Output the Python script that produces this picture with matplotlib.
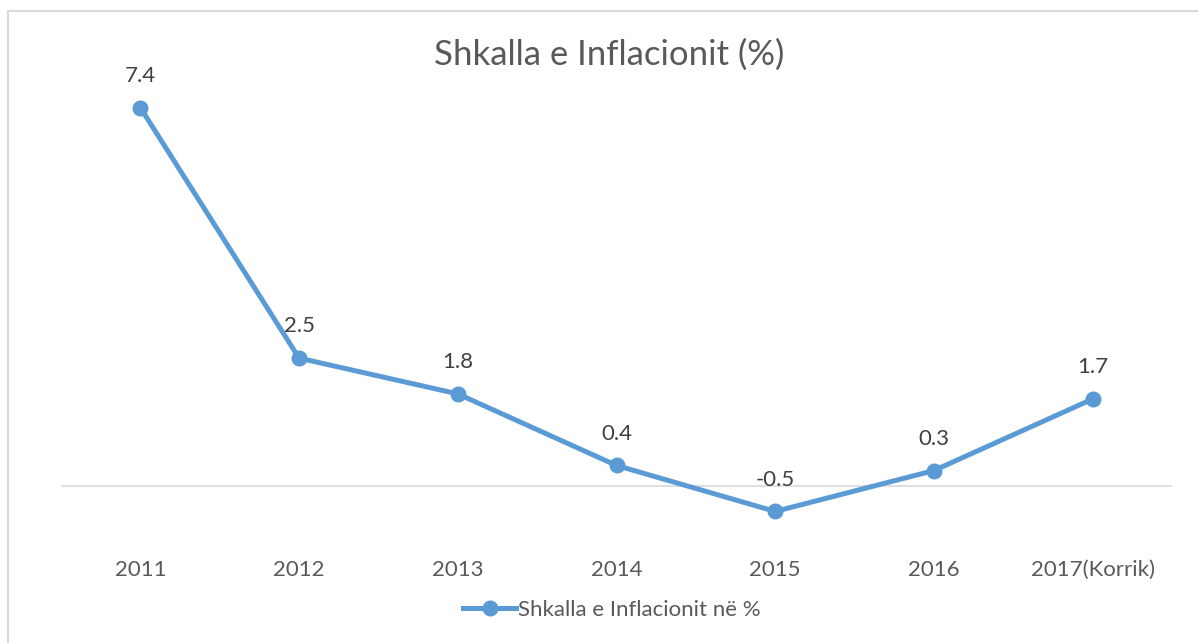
import matplotlib.pyplot as plt
from matplotlib.patches import Rectangle

plt.rcParams['font.family'] = ['Lato', 'DejaVu Sans']

# Datos
years = ['2011', '2012', '2013', '2014', '2015', '2016', '2017(Korrik)']
inflation = [7.4, 2.5, 1.8, 0.4, -0.5, 0.3, 1.7]

W, H = 1198, 643
fig = plt.figure(figsize=(W / 100, H / 100), dpi=100)

# Marco del gráfico
fig.patches.append(Rectangle((8 / W, -0.1), 1.2, 1 - 11 / H + 0.1,
                             transform=fig.transFigure, fill=False,
                             edgecolor='#D9D9D9', linewidth=1.5))

ax = fig.add_axes([61 / W, 1 - 537 / H, (1172 - 61) / W, (537 - 77) / H])

x = range(len(years))
ax.plot(x, inflation, color='#5B9BD5', linewidth=3.6, marker='o',
        markersize=10.5, label='Shkalla e Inflacionit në %')

for xi, v in zip(x, inflation):
    ax.annotate(f'{v}', (xi, v), xytext=(0, 23), textcoords='offset points',
                ha='center', va='center', fontsize=16, color='#404040')

ax.axhline(0, color='#D9D9D9', linewidth=1.2, zorder=0)
ax.set_xlim(-0.5, len(years) - 0.5)
ax.set_ylim(-1, 8)
ax.set_yticks([])
ax.set_xticks([])
for s in ax.spines.values():
    s.set_visible(False)

# Etiquetas del eje x en posición baja
for xi, lab in zip(x, years):
    ax.annotate(lab, (xi, -1), xytext=(0, -24), textcoords='offset points',
                ha='center', va='center', fontsize=16, color='#595959',
                annotation_clip=False)

fig.text(609 / W, 1 - 55 / H, 'Shkalla e Inflacionit (%)', ha='center',
         va='center', fontsize=25, color='#595959')

leg = fig.legend(loc='center', bbox_to_anchor=(612 / W, 1 - 610 / H),
                 frameon=False, fontsize=16, handlelength=2.4,
                 handletextpad=0.1, labelcolor='#595959')

fig.savefig('out.png', dpi=100)
